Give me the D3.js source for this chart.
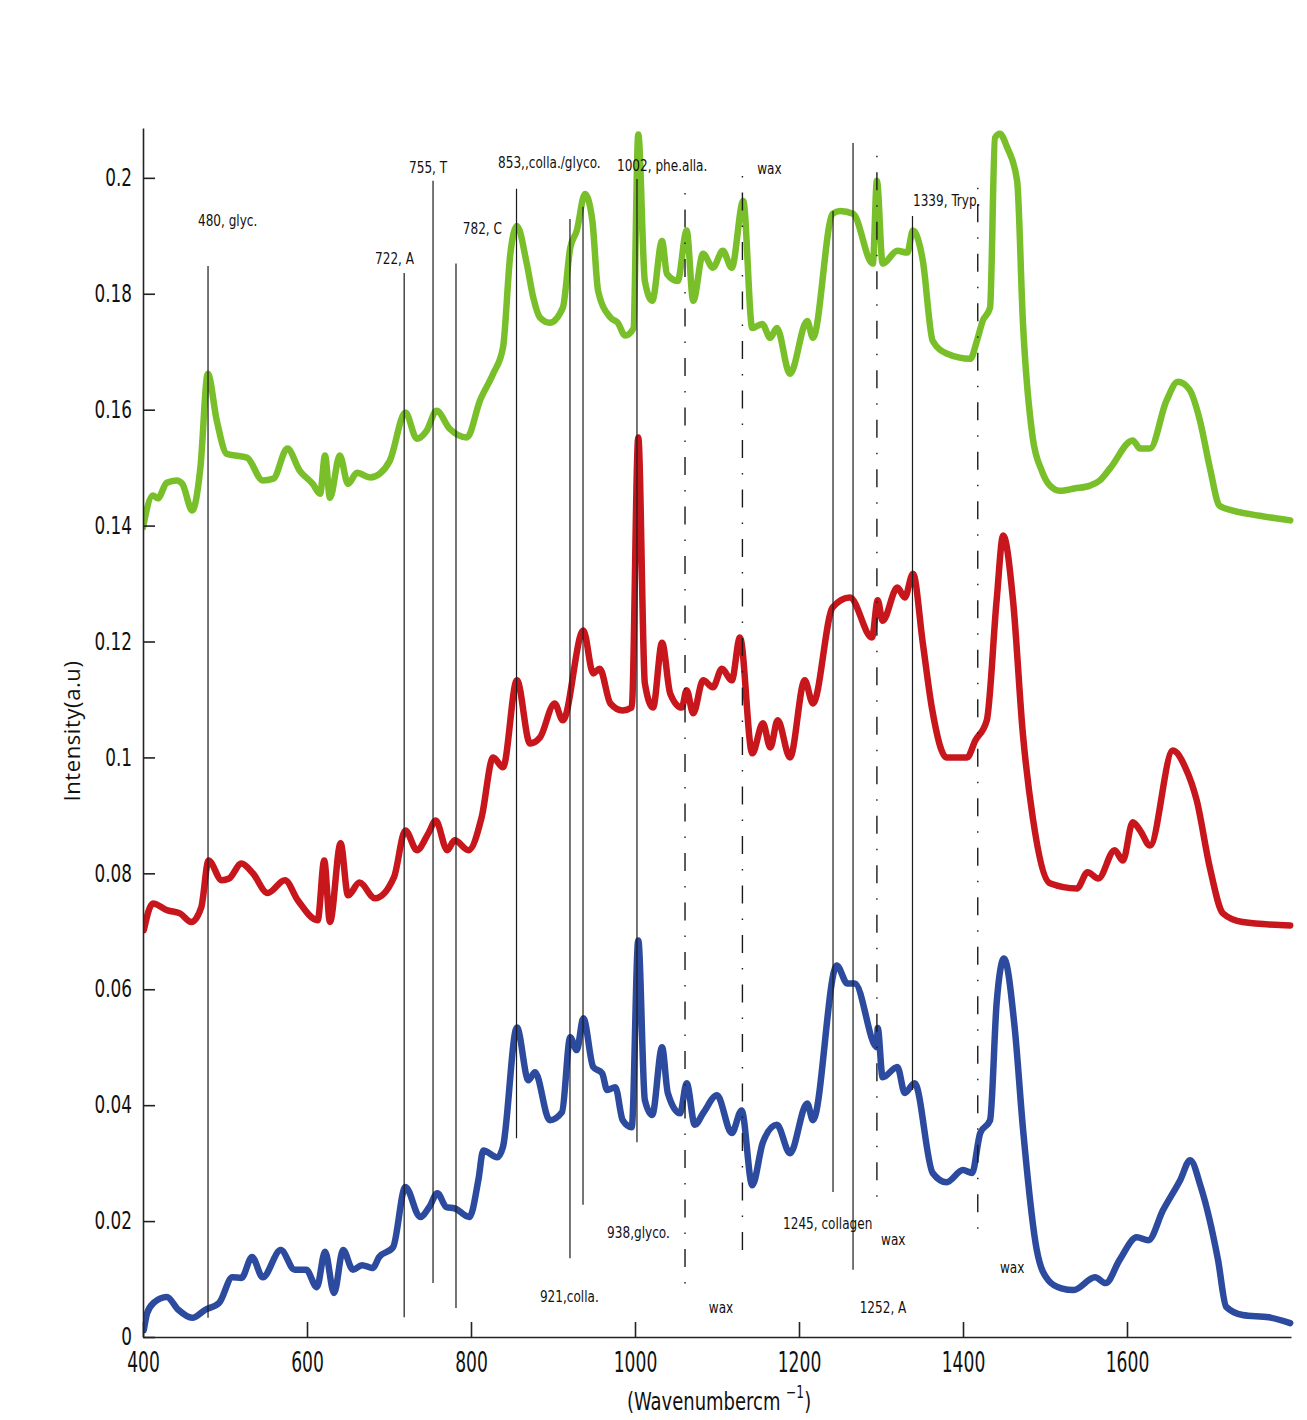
<!DOCTYPE html>
<html>
<head>
<meta charset="utf-8">
<script src="https://cdn.jsdelivr.net/npm/d3@7"></script>
<style>
  html, body { margin: 0; padding: 0; background: #fff; }
  svg { display: block; }
</style>
</head>
<body>
<svg id="chart" width="1307" height="1420"></svg>
<script>
// ---------------- DATA ----------------
const xTickValues = [400, 600, 800, 1000, 1200, 1400, 1600];
const yTickValues = [0, 0.02, 0.04, 0.06, 0.08, 0.1, 0.12, 0.14, 0.16, 0.18, 0.2];
const yTickLabels = ["0", "0.02", "0.04", "0.06", "0.08", "0.1", "0.12", "0.14", "0.16", "0.18", "0.2"];

// Spectra: [wavenumber, intensity]
const greenSpectrum = [
  [400,0.1397],[412,0.1452],[418,0.1447],[429,0.1474],[441,0.1478],[448,0.1472],[460,0.1426],
  [470,0.150],[479,0.1662],[490,0.1581],[502,0.1524],[527,0.1517],[546,0.1478],[559,0.1481],
  [576,0.1533],[591,0.1495],[607,0.1472],[616,0.1455],[622,0.1521],[628,0.1448],[640,0.1521],
  [650,0.1472],[661,0.1491],[677,0.1483],[689,0.149],[701,0.1512],[720,0.1595],[734,0.155],
  [746,0.1564],[758,0.1598],[774,0.1567],[795,0.1552],[811,0.1616],[827,0.1662],[839,0.1707],
  [848,0.1869],[856,0.1917],[868,0.1852],[876,0.1793],[884,0.1759],[896,0.175],[912,0.1776],
  [921,0.1879],[929,0.1909],[939,0.1972],[948,0.1926],[955,0.1805],[970,0.1759],[979,0.175],
  [988,0.1728],[998,0.174],[1004,0.2075],[1012,0.1822],[1021,0.1788],[1033,0.1891],[1039,0.1834],
  [1052,0.1822],[1063,0.1909],[1071,0.1788],[1083,0.1869],[1095,0.1845],[1107,0.1874],[1118,0.1845],
  [1132,0.196],[1143,0.1741],[1155,0.1748],[1165,0.1724],[1173,0.1741],[1189,0.1662],[1210,0.1753],
  [1217,0.1724],[1241,0.1938],[1250,0.1943],[1266,0.1938],[1290,0.1852],[1295,0.1995],[1302,0.1852],
  [1320,0.1874],[1332,0.1871],[1339,0.1909],[1351,0.1857],[1363,0.1719],[1380,0.1697],[1409,0.1688],
  [1417,0.1719],[1424,0.1753],[1433,0.1776],[1439,0.2069],[1445,0.2076],[1454,0.2052],[1466,0.1995],
  [1473,0.1753],[1485,0.1552],[1496,0.1495],[1506,0.1469],[1518,0.146],[1536,0.1464],[1555,0.1469],
  [1567,0.1478],[1580,0.150],[1607,0.1547],[1616,0.1533],[1628,0.1533],[1648,0.1615],[1662,0.1648],
  [1676,0.1635],[1689,0.1581],[1701,0.150],[1713,0.1434],[1729,0.1426],[1762,0.1417],[1799,0.1409]
];

const redSpectrum = [
  [401,0.0702],[412,0.0748],[430,0.0736],[445,0.0731],[459,0.0716],[471,0.0741],[480,0.0822],
  [496,0.0788],[505,0.0791],[520,0.0817],[534,0.080],[552,0.0766],[573,0.0788],[589,0.0753],
  [613,0.0719],[621,0.0822],[628,0.0716],[641,0.0852],[650,0.0762],[664,0.0784],[683,0.0757],
  [706,0.0793],[720,0.0874],[734,0.084],[748,0.0869],[757,0.0891],[771,0.084],[780,0.0857],
  [797,0.084],[813,0.0897],[827,0.100],[839,0.0983],[856,0.1133],[872,0.1024],[884,0.1034],
  [902,0.1093],[912,0.1064],[937,0.1219],[949,0.1145],[957,0.1153],[970,0.1093],[985,0.1081],
  [996,0.1086],[1004,0.1552],[1012,0.1128],[1022,0.1086],[1033,0.1198],[1043,0.111],[1057,0.1086],
  [1063,0.1116],[1071,0.1076],[1083,0.1133],[1095,0.1121],[1106,0.1153],[1118,0.1133],[1128,0.1207],
  [1143,0.1007],[1156,0.1059],[1165,0.1017],[1174,0.1064],[1189,0.100],[1207,0.1133],[1217,0.1093],
  [1241,0.1259],[1262,0.1276],[1289,0.1207],[1296,0.1271],[1302,0.1236],[1320,0.1293],[1329,0.1276],
  [1339,0.1317],[1351,0.1197],[1362,0.1086],[1380,0.100],[1405,0.100],[1415,0.1029],[1429,0.1064],
  [1441,0.1271],[1449,0.1383],[1461,0.1271],[1473,0.1041],[1485,0.0897],[1506,0.0783],[1539,0.0774],
  [1552,0.0802],[1565,0.0791],[1585,0.084],[1595,0.0822],[1607,0.0888],[1616,0.0874],[1628,0.0848],
  [1656,0.1012],[1671,0.0983],[1685,0.0926],[1701,0.081],[1717,0.0731],[1741,0.0716],[1799,0.071]
];

const blueSpectrum = [
  [401,0.0012],[405,0.0041],[413,0.0059],[429,0.0069],[443,0.0047],[460,0.0033],[476,0.0047],
  [493,0.0059],[509,0.0103],[520,0.0102],[533,0.0138],[546,0.0103],[568,0.015],[585,0.0116],
  [599,0.0116],[612,0.0086],[622,0.0147],[633,0.0076],[644,0.015],[656,0.0116],[667,0.0124],
  [680,0.0119],[688,0.0138],[705,0.0155],[720,0.0259],[738,0.0207],[749,0.0224],[759,0.0248],
  [770,0.0224],[780,0.0222],[798,0.0207],[809,0.0271],[815,0.0322],[832,0.031],[839,0.0328],
  [856,0.0534],[870,0.0443],[878,0.0457],[896,0.0374],[911,0.0388],[921,0.0517],[929,0.0495],
  [937,0.055],[949,0.0466],[960,0.0455],[966,0.0426],[976,0.0431],[985,0.0374],[996,0.0362],
  [1004,0.0684],[1012,0.0409],[1021,0.0383],[1033,0.050],[1040,0.0421],[1055,0.0386],[1063,0.0438],
  [1073,0.0366],[1083,0.0386],[1100,0.0417],[1118,0.0352],[1130,0.0391],[1143,0.0262],[1156,0.0336],
  [1173,0.0366],[1189,0.0317],[1210,0.0403],[1217,0.0374],[1246,0.0641],[1259,0.061],[1268,0.061],
  [1295,0.050],[1296,0.0533],[1302,0.0448],[1320,0.0466],[1329,0.0421],[1341,0.0438],[1363,0.0283],
  [1380,0.0267],[1400,0.0288],[1411,0.0283],[1421,0.0352],[1433,0.0374],[1441,0.0576],[1450,0.0653],
  [1463,0.0534],[1473,0.0362],[1490,0.015],[1504,0.0098],[1520,0.0084],[1535,0.0081],[1561,0.0103],
  [1574,0.0093],[1591,0.0133],[1612,0.0172],[1626,0.0167],[1644,0.0219],[1665,0.0271],[1677,0.0305],
  [1690,0.0259],[1711,0.0133],[1721,0.0052],[1741,0.0038],[1773,0.0034],[1799,0.0024]
];

// Marker lines: [wavenumber, top intensity, bottom intensity]
const solidMarkers = [
  [479.3,0.1848,0.0033],[718.5,0.1836,0.0034],[753.7,0.1995,0.0093],[781.7,0.1852,0.005],
  [855.5,0.1981,0.0343],[920.7,0.1929,0.0136],[936.6,0.195,0.0228],[1002.4,0.1998,0.0336],
  [1241.5,0.1943,0.025],[1265.9,0.206,0.0116],[1338.4,0.1934,0.0426]
];
const waxMarkers = [
  [1061,0.1974,0.0084],[1131,0.2003,0.0138],[1295,0.2038,0.0231],[1418,0.1983,0.0181]
];

// Annotation labels: [text, wavenumber (start), intensity (baseline)]
const annotations = [
  ["480, glyc.",467,0.1917],["722, A",683,0.1852],["755, T",724.4,0.2009],["782, C",790,0.1903],
  ["853,,colla./glyco.",833,0.2017],["1002, phe.alla.",978,0.2012],["wax",1149,0.2007],
  ["1339, Tryp.",1339,0.1952],["938,glyco.",966,0.0171],["921,colla.",884,0.006],["wax",1090,0.0041],
  ["1245, collagen",1180.5,0.0186],["wax",1300,0.0159],["wax",1445,0.011],["1252, A",1274,0.0041]
];

const seriesList = [
  { name: "green", data: greenSpectrum, color: "#78bf2a" },
  { name: "red", data: redSpectrum, color: "#c8161d" },
  { name: "blue", data: blueSpectrum, color: "#2c4a9e" }
];

// ---------------- DRAW ----------------
const svg = d3.select("#chart");
const x = d3.scaleLinear().domain([400, 1800]).range([143, 1291]);
const y = d3.scaleLinear().domain([0, 0.2086]).range([1337, 128]);

const narrow = "'Liberation Sans Narrow', 'DejaVu Sans Condensed', 'Liberation Sans', sans-serif";

svg.append("defs").append("clipPath").attr("id", "plotclip")
  .append("rect").attr("x", 143).attr("y", 122).attr("width", 1160).attr("height", 1220);

const line = d3.line().x(d => x(d[0])).y(d => y(d[1])).curve(d3.curveMonotoneX);

const plot = svg.append("g").attr("clip-path", "url(#plotclip)");
seriesList.forEach(s => {
  plot.append("path").datum(s.data)
    .attr("d", line)
    .attr("fill", "none")
    .attr("stroke", s.color)
    .attr("stroke-width", 6.5)
    .attr("stroke-linejoin", "round")
    .attr("stroke-linecap", "round");
});

// marker lines on top
svg.append("g").selectAll("line").data(solidMarkers).join("line")
  .attr("x1", d => x(d[0])).attr("x2", d => x(d[0]))
  .attr("y1", d => y(d[1])).attr("y2", d => y(d[2]))
  .attr("stroke", "#1a1a1a").attr("stroke-width", 1.2);

svg.append("g").selectAll("line").data(waxMarkers).join("line")
  .attr("x1", d => x(d[0])).attr("x2", d => x(d[0]))
  .attr("y1", d => y(d[1])).attr("y2", d => y(d[2]))
  .attr("stroke", "#1a1a1a").attr("stroke-width", 1.4)
  .attr("stroke-dasharray", "1.5,15,18,15");

svg.append("g").selectAll("text").data(annotations).join("text")
  .attr("transform", d => `translate(${x(d[1])},${y(d[2])}) scale(0.84,1)`)
  .attr("font-family", narrow).attr("font-size", 16).attr("fill", "#111")
  .text(d => d[0]);

// axes
const yAxis = d3.axisLeft(y).tickValues(yTickValues)
  .tickFormat((d, i) => yTickLabels[i])
  .tickSizeInner(-12).tickSizeOuter(0).tickPadding(11);
const gy = svg.append("g").attr("transform", "translate(143,0)").call(yAxis);
gy.select(".domain").attr("stroke", "#222").attr("stroke-width", 1.6);
gy.selectAll(".tick line").attr("stroke", "#222").attr("stroke-width", 1.6);
gy.selectAll(".tick text").attr("font-family", narrow).attr("font-size", 24).attr("fill", "#111")
  .attr("x", -11 / 0.78).attr("transform", "scale(0.78,1)");

const xAxis = d3.axisBottom(x).tickValues(xTickValues).tickFormat(d3.format("d"))
  .tickSizeInner(-15).tickSizeOuter(0).tickPadding(15);
const gx = svg.append("g").attr("transform", "translate(0,1337)").call(xAxis);
gx.select(".domain").attr("stroke", "#222").attr("stroke-width", 1.6);
gx.selectAll(".tick line").attr("stroke", "#222").attr("stroke-width", 1.6);
gx.selectAll(".tick text").attr("font-family", narrow).attr("font-size", 28).attr("fill", "#111")
  .attr("transform", "scale(0.68,1)");

// axis titles
const xt = svg.append("text").attr("transform", "translate(627,1410) scale(0.8,1)")
  .attr("font-family", narrow).attr("font-size", 25).attr("fill", "#111");
xt.append("tspan").text("(Wavenumbercm ");
xt.append("tspan").attr("dy", -12).attr("font-size", 17).text("\u22121");
xt.append("tspan").attr("dy", 12).text(")");

svg.append("text")
  .attr("transform", "translate(80,731) rotate(-90)")
  .attr("text-anchor", "middle")
  .attr("font-family", "'Open Sans', 'Liberation Sans', sans-serif")
  .attr("font-size", 22).attr("letter-spacing", 0.6).attr("fill", "#111")
  .text("Intensity(a.u)");
</script>
</body>
</html>
